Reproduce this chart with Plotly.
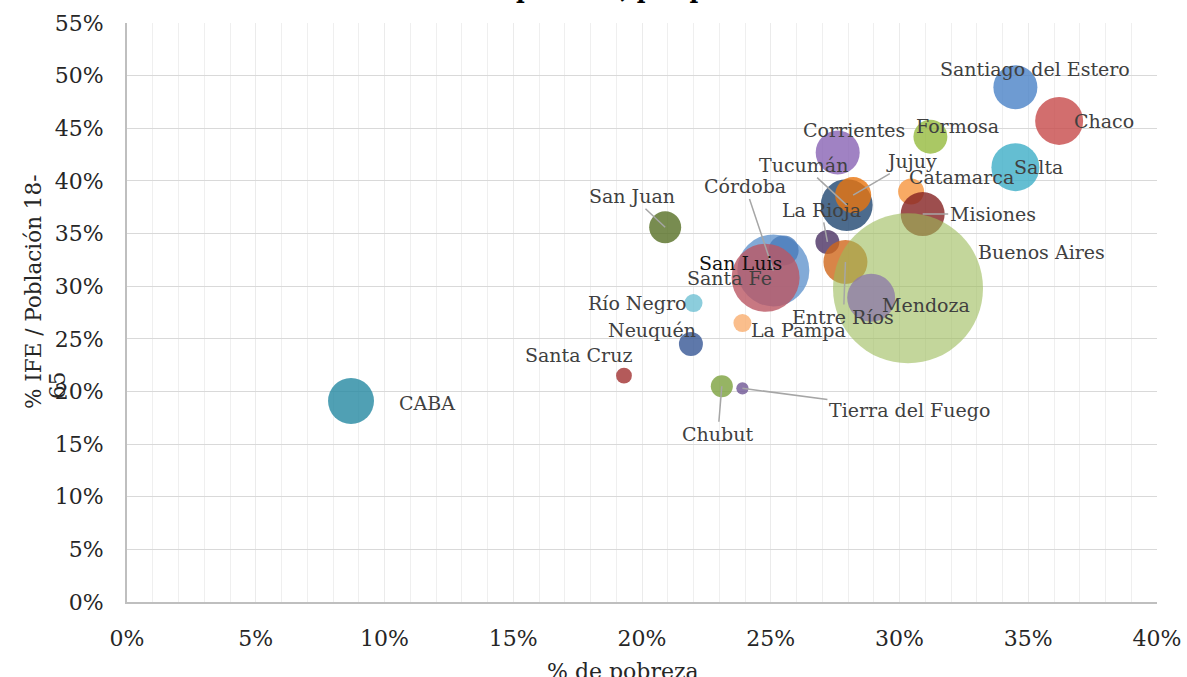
import plotly.graph_objects as go

provincias = ["CABA", "Santa Cruz", "Neuquén", "Río Negro", "San Juan", "Chubut",
              "Tierra del Fuego", "La Pampa", "Córdoba", "San Luis", "Santa Fe",
              "La Rioja", "Catamarca", "Misiones", "Entre Ríos", "Buenos Aires",
              "Mendoza", "Tucumán", "Jujuy", "Corrientes", "Formosa", "Salta",
              "Santiago del Estero", "Chaco"]
pobreza = [8.7, 19.3, 21.9, 22.0, 20.9, 23.1,
           23.9, 23.9, 25.1, 25.5, 24.8,
           27.2, 30.45, 30.9, 27.9, 30.33,
           28.9, 27.95, 28.2, 27.6, 31.2, 34.5,
           34.5, 36.2]
ife = [19.1, 21.5, 24.5, 28.4, 35.6, 20.5,
       20.3, 26.5, 31.5, 33.4, 30.8,
       34.2, 39.0, 36.85, 32.3, 29.8,
       28.9, 37.7, 38.65, 42.7, 44.2, 41.3,
       48.9, 45.7]
tamano = [169, 20, 46, 26, 82, 39,
          12, 26, 415, 72, 370,
          46, 54, 155, 155, 1800,
          184, 216, 104, 155, 92, 184,
          155, 184]
colores = ["#2488A1", "#A13131", "#365695", "#6FC0D3", "#566F24", "#7CA13D",
           "#6F5695", "#F9AE6F", "#6395CD", "#4A7CBA", "#BA5663",
           "#4A3163", "#F6953D", "#842222", "#D0661A", "#9BBB59",
           "#8F7CA8", "#1F4670", "#E8740E", "#8863B4", "#95BA3D", "#3DAEC7",
           "#4A82C7", "#C74A4A"]
opacidad = [0.8] * len(provincias)
opacidad[provincias.index("Buenos Aires")] = 0.6

x_ticks = [0, 5, 10, 15, 20, 25, 30, 35, 40]
y_ticks = [0, 5, 10, 15, 20, 25, 30, 35, 40, 45, 50, 55]

# label placement (pixel offsets of label centre from bubble centre; leader line flag)
etiquetas = {
    "CABA": (76, 2, False), "Santa Cruz": (-45, -21, False), "Neuquén": (-39, -14, False),
    "Río Negro": (-57, 0, False), "San Juan": (-33, -31, True), "Chubut": (-4, 48, True),
    "Tierra del Fuego": (167, 22, True), "La Pampa": (56, 7, False),
    "Córdoba": (-28, -84, True), "San Luis": (-43, 13, False), "Santa Fe": (-36, 0, False),
    "La Rioja": (-6, -32, True), "Catamarca": (50, -14, False), "Misiones": (70, 0, True),
    "Entre Ríos": (-2, 55, True), "Buenos Aires": (133, -36, False),
    "Mendoza": (55, 7, False), "Tucumán": (-43, -40, True), "Jujuy": (58, -34, True),
    "Corrientes": (16, -22, False), "Formosa": (27, -11, False), "Salta": (23, 0, False),
    "Santiago del Estero": (20, -18, False), "Chaco": (45, 0, False),
}

FONT = "DejaVu Serif"
R_MAX = 75
sizeref = max(tamano) / (2 * R_MAX ** 2)

fig = go.Figure()
fig.add_trace(go.Scatter(
    x=pobreza, y=ife, mode="markers", text=provincias,
    marker=dict(size=tamano, sizemode="area", sizeref=sizeref, color=colores,
                opacity=opacidad, line=dict(width=0)),
    hovertemplate="%{text}<br>Pobreza: %{x}%<br>IFE: %{y}%<extra></extra>",
    showlegend=False,
))

annotations = []
for p, xv, yv in zip(provincias, pobreza, ife):
    dx, dy, leader = etiquetas[p]
    col = "#111111" if p == "San Luis" else "#404040"
    if leader:
        annotations.append(dict(x=xv, y=yv, xref="x", yref="y", text=p,
                                showarrow=True, arrowhead=0, arrowwidth=1.5,
                                arrowcolor="#A6A6A6", ax=dx, ay=dy, standoff=0,
                                font=dict(family=FONT, size=19, color=col)))
    else:
        annotations.append(dict(x=xv, y=yv, xref="x", yref="y", text=p,
                                showarrow=False, xshift=dx, yshift=-dy,
                                font=dict(family=FONT, size=19, color=col)))

# cropped title (only bottom visible)
annotations.append(dict(x=0.521, y=1.0285, xref="paper", yref="paper",
                        text="<b>pobreza, por provincia</b>", showarrow=False,
                        xanchor="center", yanchor="bottom",
                        font=dict(family=FONT, size=23.5, color="#000000")))
# x axis title
annotations.append(dict(x=0.4816, y=-0.145, xref="paper", yref="paper",
                        text="% de pobreza", showarrow=False,
                        xanchor="center", yanchor="bottom",
                        font=dict(family=FONT, size=22, color="#262626")))
# y axis title (wrapped in two lines)
annotations.append(dict(x=-0.0913, y=0.5354, xref="paper", yref="paper",
                        text="% IFE / Población 18-", showarrow=False, textangle=-90,
                        xanchor="center", yanchor="middle",
                        font=dict(family=FONT, size=21.5, color="#262626")))
annotations.append(dict(x=-0.067, y=0.3748, xref="paper", yref="paper",
                        text="65", showarrow=False, textangle=-90,
                        xanchor="center", yanchor="middle",
                        font=dict(family=FONT, size=21.5, color="#262626")))

fig.update_layout(
    width=1187, height=677,
    margin=dict(l=127, r=30, t=23, b=75, autoexpand=False),
    paper_bgcolor="white", plot_bgcolor="white",
    annotations=annotations,
    xaxis=dict(range=[0, 40], tickvals=x_ticks, ticktext=[f"{v}%" for v in x_ticks],
               showgrid=True, gridcolor="#EBEBEB", gridwidth=1,
               minor=dict(dtick=1, showgrid=True, gridcolor="#EFEFEF", gridwidth=1),
               showline=True, linecolor="#BFBFBF", linewidth=2, zeroline=False,
               ticks="", ticklabelstandoff=16, automargin=False,
               tickfont=dict(family=FONT, size=22, color="#262626")),
    yaxis=dict(range=[0, 55], tickvals=y_ticks, ticktext=[f"{v}%" for v in y_ticks],
               showgrid=True, gridcolor="#D9D9D9", gridwidth=1.3,
               showline=True, linecolor="#BFBFBF", linewidth=2, zeroline=False,
               ticks="", ticklabelstandoff=17, automargin=False,
               tickfont=dict(family=FONT, size=22, color="#262626")),
)

fig.write_html("out.html", config={"displayModeBar": False},
               post_script="document.body.style.margin='0px';")
